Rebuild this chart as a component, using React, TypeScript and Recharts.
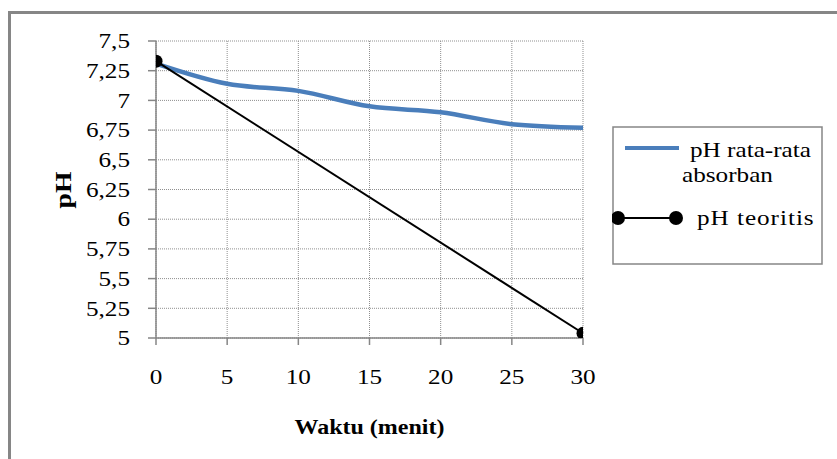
import { LineChart, Line, XAxis, YAxis, CartesianGrid, Label } from "recharts";

const waktu = [0, 5, 10, 15, 20, 25, 30];
const phAbsorban = [7.31, 7.14, 7.08, 6.95, 6.9, 6.8, 6.77];
const phTeoritis = [7.33, null, null, null, null, null, 5.04];
const yTicks = [5, 5.25, 5.5, 5.75, 6, 6.25, 6.5, 6.75, 7, 7.25, 7.5];
const xTicks = [0, 5, 10, 15, 20, 25, 30];

const data = waktu.map((t, i) => ({ t, absorban: phAbsorban[i], teoritis: phTeoritis[i] }));

const FONT = "Liberation Serif, serif";
const AXIS = "#868686";
const BLUE = "#4a7ebb";
const PLOT = { left: 156, top: 41, width: 427, height: 297 };

const fmt = (v: number) => String(v).replace(".", ",");

// Times-style text, widened a little
function Stretched({ x, y, anchor, children, bold, size = 21, rotate = 0 }: any) {
  return (
    <text
      transform={`translate(${x},${y}) rotate(${rotate}) scale(1.2,1)`}
      textAnchor={anchor}
      dominantBaseline="central"
      style={{ fontFamily: FONT, fontSize: size, fontWeight: bold ? 700 : 400 }}
      fill="#000"
    >
      {children}
    </text>
  );
}

const YTick = ({ x, y, payload }: any) => (
  <Stretched x={x} y={y} anchor="end">
    {fmt(payload.value)}
  </Stretched>
);

const XTick = ({ x, y, payload }: any) => (
  <Stretched x={x} y={y} anchor="middle">
    {payload.value}
  </Stretched>
);

const legendText = { fontFamily: FONT, fontSize: 21 };

function LegendBox() {
  return (
    <svg width={211} height={140} style={{ position: "absolute", left: 612, top: 126 }}>
      <rect x={1} y={1} width={209} height={137} fill="#fff" stroke={AXIS} strokeWidth={1.5} />
      <line x1={13} y1={22} x2={67} y2={22} stroke={BLUE} strokeWidth={4} />
      <text transform="translate(78,31) scale(1.2,1)" style={legendText}>
        pH rata-rata
      </text>
      <text transform="translate(70,56) scale(1.2,1)" style={legendText}>
        absorban
      </text>
      <line x1={6} y1={92} x2={64} y2={92} stroke="#000" strokeWidth={2} />
      <circle cx={6} cy={92} r={7} fill="#000" />
      <circle cx={64} cy={92} r={7} fill="#000" />
      <text transform="translate(85,99) scale(1.2,1)" style={{ ...legendText, letterSpacing: 0.8 }}>
        pH teoritis
      </text>
    </svg>
  );
}

// marker cut off at the plot rectangle
const clippedDot = (p: any) => {
  if (p.cx == null || p.cy == null) return <g key={p.index} />;
  return (
    <svg
      key={p.index}
      x={PLOT.left}
      y={PLOT.top}
      width={PLOT.width}
      height={PLOT.height}
      viewBox={`${PLOT.left} ${PLOT.top} ${PLOT.width} ${PLOT.height}`}
      overflow="hidden"
      style={{ overflow: "hidden" }}
    >
      <circle cx={p.cx} cy={p.cy} r={6.5} fill="#000" />
    </svg>
  );
};

export default function App() {
  return (
    <div
      style={{
        position: "fixed",
        left: 0,
        top: 0,
        width: 837,
        height: 459,
        background: "#fff",
        overflow: "hidden",
      }}
    >
      <div
        style={{
          position: "absolute",
          left: 8,
          top: 11,
          width: 900,
          height: 500,
          borderTop: `3px solid ${AXIS}`,
          borderLeft: `3px solid ${AXIS}`,
        }}
      />
      <div style={{ position: "absolute", left: 0, top: 0 }}>
        <LineChart
          width={837}
          height={459}
          data={data}
          margin={{ top: PLOT.top, right: 837 - PLOT.left - PLOT.width, bottom: 0, left: 0 }}
        >
          <CartesianGrid stroke="#8f8f8f" strokeDasharray="1 1" strokeWidth={1} />
          <XAxis
            dataKey="t"
            type="number"
            domain={[0, 30]}
            ticks={xTicks}
            height={459 - PLOT.top - PLOT.height}
            stroke={AXIS}
            strokeWidth={1.5}
            tickSize={7}
            tickMargin={32}
            tick={<XTick />}
          >
            <Label
              content={({ viewBox }: any) => (
                <Stretched x={viewBox.x + viewBox.width / 2} y={viewBox.y + 89} anchor="middle" bold size={20}>
                  Waktu (menit)
                </Stretched>
              )}
            />
          </XAxis>
          <YAxis
            type="number"
            domain={[5, 7.5]}
            ticks={yTicks}
            width={PLOT.left}
            stroke={AXIS}
            strokeWidth={1.5}
            tickSize={8}
            tickMargin={18}
            tick={<YTick />}
          >
            <Label
              content={({ viewBox }: any) => (
                <Stretched x={63} y={viewBox.y + 149} anchor="middle" bold size={23} rotate={-90}>
                  pH
                </Stretched>
              )}
            />
          </YAxis>
          <Line
            dataKey="absorban"
            type="monotone"
            stroke={BLUE}
            strokeWidth={4.5}
            dot={false}
            isAnimationActive={false}
          />
          <Line
            dataKey="teoritis"
            type="linear"
            connectNulls
            stroke="#000"
            strokeWidth={2}
            dot={clippedDot}
            isAnimationActive={false}
          />
        </LineChart>
      </div>
      <LegendBox />
    </div>
  );
}
